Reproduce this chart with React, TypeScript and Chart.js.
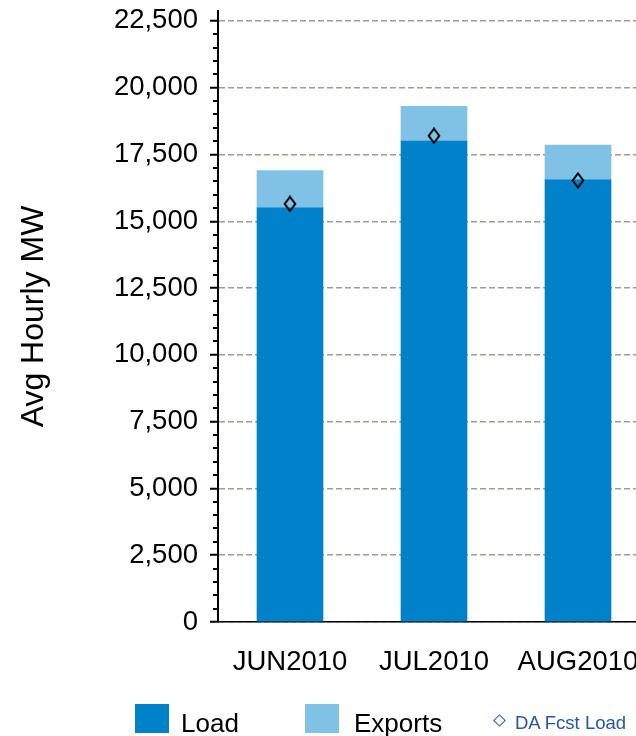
import React, { useEffect, useRef } from "react";
import { Chart, registerables } from "chart.js";

Chart.register(...registerables);

const categories = ["JUN2010", "JUL2010", "AUG2010"];
const loadValues = [15500, 18000, 16550];
const exportValues = [1400, 1300, 1300];
const daFcstLoad = [15650, 18200, 16530];
const yTickValues = [0, 2500, 5000, 7500, 10000, 12500, 15000, 17500, 20000, 22500];
const yMin = 0;
const yMax = 22870;
const yMinorStep = 500;

const LOAD_COLOR = "#0082ca";
const EXPORT_COLOR = "#80c1e6";
const FONT = "'Liberation Sans', Arial, sans-serif";

function makeDiamond(): HTMLCanvasElement {
  const c = document.createElement("canvas");
  c.width = 14;
  c.height = 17;
  const ctx = c.getContext("2d")!;
  ctx.strokeStyle = "#000";
  ctx.lineWidth = 2;
  ctx.beginPath();
  ctx.moveTo(7, 1.5);
  ctx.lineTo(12.3, 8.5);
  ctx.lineTo(7, 15.5);
  ctx.lineTo(1.7, 8.5);
  ctx.closePath();
  ctx.stroke();
  return c;
}

const minorTicks = {
  id: "minorTicks",
  afterDraw(chart: any) {
    const s = chart.scales.y;
    const ctx = chart.ctx;
    const top = yTickValues[yTickValues.length - 1];
    ctx.save();
    ctx.strokeStyle = "#000";
    ctx.lineWidth = 2;
    for (let v = yMin; v <= top; v += yMinorStep) {
      if (yTickValues.includes(v)) continue;
      const y = Math.round(s.getPixelForValue(v));
      ctx.beginPath();
      ctx.moveTo(s.right - 5, y);
      ctx.lineTo(s.right, y);
      ctx.stroke();
    }
    ctx.restore();
  },
};

export default function App() {
  const ref = useRef<HTMLCanvasElement | null>(null);
  useEffect(() => {
    if (!ref.current) return;
    const diamond = makeDiamond();
    const chart = new Chart(ref.current, {
      type: "bar",
      data: {
        labels: categories,
        datasets: [
          {
            type: "line" as any,
            label: "DA Fcst Load",
            data: daFcstLoad,
            showLine: false,
            pointStyle: diamond as any,
            pointRadius: 7,
            order: -1,
            stack: "fcst",
          } as any,
          {
            label: "Load",
            data: loadValues,
            backgroundColor: LOAD_COLOR,
            barThickness: 66,
            stack: "s",
            order: 1,
          },
          {
            label: "Exports",
            data: exportValues,
            backgroundColor: EXPORT_COLOR,
            barThickness: 66,
            stack: "s",
            order: 1,
          },
        ],
      },
      options: {
        responsive: false,
        animation: false,
        devicePixelRatio: 1,
        layout: { padding: { top: 11, right: 10, bottom: 0, left: 0 } },
        plugins: { legend: { display: false }, tooltip: { enabled: false } },
        scales: {
          x: {
            stacked: true,
            offset: true,
            grid: { display: false, drawTicks: false },
            border: { display: true, color: "#000", width: 1.5 },
            ticks: {
              color: "#000",
              padding: 24,
              font: { family: FONT, size: 27.5 },
              maxRotation: 0,
            },
            afterFit(scale: any) {
              scale.height = 114;
              scale.paddingLeft = 0;
              scale.paddingRight = 0;
            },
          },
          y: {
            stacked: true,
            min: yMin,
            max: yMax,
            afterBuildTicks(scale: any) {
              scale.ticks = yTickValues.map((v) => ({ value: v }));
            },
            grid: {
              color: "#a39b91",
              lineWidth: 1.5,
              tickColor: "#000",
              tickLength: 8,
              tickWidth: 2,
              tickBorderDash: [],
            },
            border: { display: true, color: "#000", width: 2, dash: [6, 3] },
            ticks: {
              color: "#000",
              padding: 12,
              autoSkip: false,
              font: { family: FONT, size: 27.5 },
              callback: (v: any) => Number(v).toLocaleString("en-US"),
            },
            title: {
              display: true,
              text: "Avg Hourly MW",
              color: "#000",
              font: { family: FONT, size: 32 },
              padding: { top: 15, bottom: 0 },
            },
            afterFit(scale: any) {
              scale.width = 218;
              scale.paddingTop = 0;
              scale.paddingBottom = 0;
            },
          },
        },
      },
      plugins: [minorTicks],
    } as any);
    return () => chart.destroy();
  }, []);

  const textBase: React.CSSProperties = {
    position: "absolute",
    fontFamily: FONT,
    whiteSpace: "nowrap",
  };

  return (
    <div
      style={{
        position: "fixed",
        left: 0,
        top: 0,
        width: 636,
        height: 736,
        overflow: "hidden",
        background: "#fff",
      }}
    >
      <canvas ref={ref} width={660} height={736} style={{ position: "absolute", left: 0, top: 0 }} />
      <div style={{ position: "absolute", left: 135, top: 704, width: 34, height: 29, background: LOAD_COLOR }} />
      <div style={{ ...textBase, left: 181, top: 710, fontSize: 26, lineHeight: "26px", color: "#000" }}>Load</div>
      <div style={{ position: "absolute", left: 305, top: 704, width: 34, height: 29, background: EXPORT_COLOR }} />
      <div style={{ ...textBase, left: 354, top: 710, fontSize: 26, lineHeight: "26px", color: "#000" }}>Exports</div>
      <div
        style={{
          position: "absolute",
          left: 495,
          top: 716,
          width: 9,
          height: 9,
          border: "1.5px solid #2456a8",
          transform: "rotate(45deg)",
          boxSizing: "border-box",
        }}
      />
      <div style={{ ...textBase, left: 515, top: 714, fontSize: 18.5, lineHeight: "18.5px", color: "#2456a8" }}>DA Fcst Load</div>
    </div>
  );
}
